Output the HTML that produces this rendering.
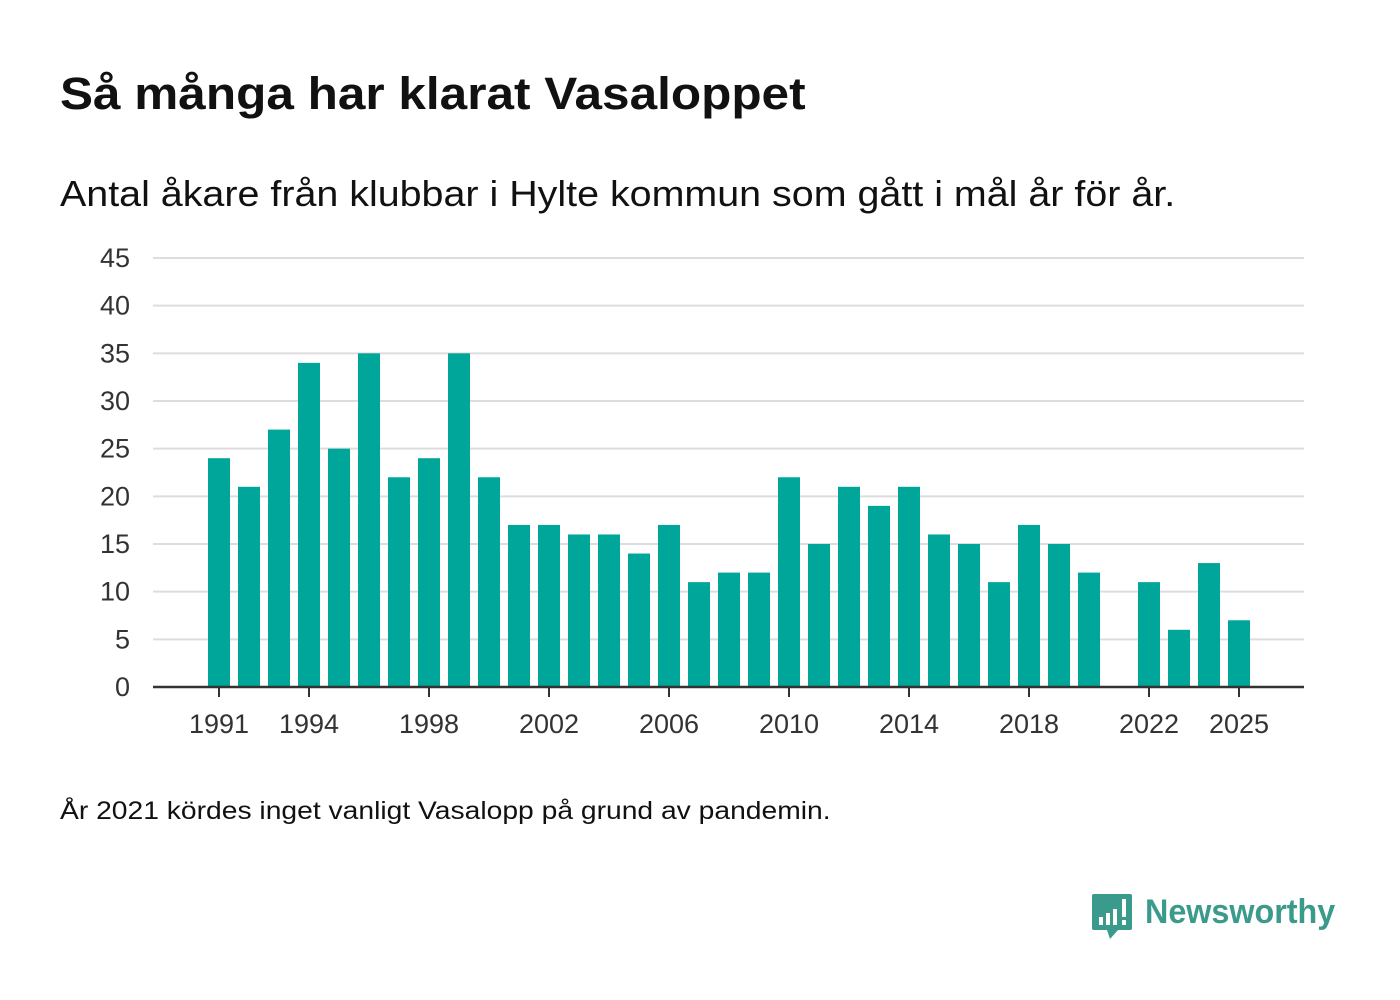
<!DOCTYPE html>
<html><head><meta charset="utf-8">
<style>
body{margin:0;background:#fff;font-family:"Liberation Sans",sans-serif;}
#wrap{position:relative;width:1400px;height:1000px;overflow:hidden;}
.t{position:absolute;white-space:nowrap;color:#111;transform-origin:0 0;}
</style></head>
<body>
<div id="wrap">
<div class="t" style="left:60px;top:68px;font-size:45px;font-weight:bold;transform:scaleX(1.10);">Så många har klarat Vasaloppet</div>
<div class="t" style="left:60px;top:173px;font-size:36px;transform:scaleX(1.095);">Antal åkare från klubbar i Hylte kommun som gått i mål år för år.</div>
<svg id="chart" width="1400" height="1000" style="position:absolute;left:0;top:0"></svg>
<div class="t" style="left:60px;top:797px;font-size:25px;transform:scaleX(1.13);">År 2021 kördes inget vanligt Vasalopp på grund av pandemin.</div>
<div style="position:absolute;left:1092px;top:893px;">
<svg width="42" height="48"><path d="M2 1h36a2 2 0 0 1 2 2v32a2 2 0 0 1-2 2H26l-8 9-3-9H2a2 2 0 0 1-2-2V3a2 2 0 0 1 2-2z" fill="#3a9a8c"/><rect x="7" y="24" width="4" height="8" fill="#fff"/><rect x="14" y="20" width="4" height="12" fill="#fff"/><rect x="21" y="16" width="4" height="16" fill="#fff"/><rect x="30" y="6" width="4" height="18" fill="#fff"/><rect x="30" y="27" width="4" height="5" fill="#fff"/></svg>
</div>
<div class="t" style="left:1145px;top:893px;font-size:34px;font-weight:bold;color:#3a9a8c;transform:scaleX(0.95);">Newsworthy</div>
</div>
<script>
const years=[1991,1992,1993,1994,1995,1996,1997,1998,1999,2000,2001,2002,2003,2004,2005,2006,2007,2008,2009,2010,2011,2012,2013,2014,2015,2016,2017,2018,2019,2020,2021,2022,2023,2024,2025];
const values=[24,21,27,34,25,35,22,24,35,22,17,17,16,16,14,17,11,12,12,22,15,21,19,21,16,15,11,17,15,12,null,11,6,13,7];
const yTicks=[0,5,10,15,20,25,30,35,40,45];
const xTickYears=[1991,1994,1998,2002,2006,2010,2014,2018,2022,2025];
const NS="http://www.w3.org/2000/svg";
const svg=document.getElementById('chart');
const x0=153,x1=1304,yBase=687,yTop=258;
const yS=v=>yBase-(v/45)*(yBase-yTop);
const xS=yr=>219+(yr-1991)*30;
function mk(t,a){const e=document.createElementNS(NS,t);for(const k in a)e.setAttribute(k,a[k]);svg.appendChild(e);return e;}
yTicks.forEach(v=>{
  if(v>0){const g=mk('line',{x1:x0,x2:x1,y1:yS(v),y2:yS(v),stroke:'#ddd','stroke-width':2});
  
  }
  const t=mk('text',{x:130,y:yS(v)+9,'text-anchor':'end','font-size':27,fill:'#333','font-family':'Liberation Sans, sans-serif'});
  t.textContent=v;
  
  
});
years.forEach((yr,i)=>{
  if(values[i]==null)return;
  const r=mk('rect',{x:xS(yr)-11,y:yS(values[i]),width:22,height:yBase-yS(values[i]),fill:'#00a699'});
  
  
});
const ax=mk('line',{x1:x0,x2:x1,y1:yBase,y2:yBase,stroke:'#333','stroke-width':2.5});


xTickYears.forEach(yr=>{
  const l=mk('line',{x1:xS(yr),x2:xS(yr),y1:yBase,y2:yBase+10,stroke:'#333','stroke-width':2});
  
  
  const t=mk('text',{x:xS(yr),y:733,'text-anchor':'middle','font-size':27,fill:'#333','font-family':'Liberation Sans, sans-serif'});
  t.textContent=yr;
  
  
});
</script>
</body></html>
